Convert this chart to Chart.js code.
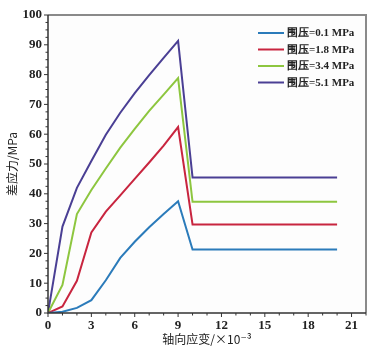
<!DOCTYPE html>
<html><head><meta charset="utf-8">
<script src="https://cdn.jsdelivr.net/npm/chart.js@4/dist/chart.umd.min.js"></script>
<style>html,body{margin:0;padding:0;background:#fff}#wrap{width:382px;height:355px}</style>
</head><body><div id="wrap"><canvas id="c" width="382" height="355"></canvas></div>
<script>
const strain = [0,1,2,3,4,5,6,7,8,9,10,20];
const s01 = [0,0.4,1.7,4.3,11,18.5,23.9,28.8,33.2,37.5,21.3,21.3];
const s18 = [0,2.2,10.8,27.0,34.0,39.5,45.0,50.5,56.2,62.4,29.7,29.7];
const s34 = [0,9.4,33.2,41.3,48.5,55.5,61.8,67.8,73.3,78.8,37.3,37.3];
const s51 = [0,29.0,42.0,51.0,59.8,67.2,73.8,79.8,85.6,91.3,45.5,45.5];
const labels = ['围压=0.1 MPa','围压=1.8 MPa','围压=3.4 MPa','围压=5.1 MPa'];
const colors = ['#2b7bba','#c8253f','#8dc63f','#4a3f94'];
const series = [s01,s18,s34,s51];
const xTicks = [0,3,6,9,12,15,18,21];
const yTicks = [0,10,20,30,40,50,60,70,80,90,100];

const serif = "'Liberation Serif','DejaVu Serif',serif";
const datasets = series.map((s,i)=>({
  label: labels[i],
  data: strain.map((x,j)=>({x:x,y:s[j]})),
  borderColor: colors[i], backgroundColor: colors[i],
  borderWidth: 2, pointRadius: 0, tension: 0, fill:false
}));

const decor = {
  id:'decor',
  beforeDraw(chart){
    const {ctx, chartArea:a} = chart;
    ctx.save(); ctx.fillStyle='#fdfdfd'; ctx.fillRect(a.left,a.top,a.right-a.left,a.bottom-a.top); ctx.restore();
  },
  afterDraw(chart){
    const {ctx, chartArea:a, scales} = chart;
    ctx.save();
    ctx.strokeStyle='#8a8a8a'; ctx.lineWidth=2;
    ctx.beginPath(); ctx.moveTo(a.left,a.top); ctx.lineTo(a.right,a.top); ctx.lineTo(a.right,a.bottom); ctx.stroke();
    ctx.strokeStyle='#333'; ctx.lineWidth=1.5;
    ctx.beginPath(); ctx.moveTo(a.left,a.top); ctx.lineTo(a.left,a.bottom); ctx.lineTo(a.right,a.bottom); ctx.stroke();
    ctx.lineWidth=1;
    const xs=scales.x, ys=scales.y;
    for(let v=0; v<=22; v+=1){
      const p=xs.getPixelForValue(v); const major = (v%3===0);
      ctx.beginPath(); ctx.moveTo(p,a.bottom); ctx.lineTo(p,a.bottom+(major?4:2.5)); ctx.stroke();
    }
    for(let v=0; v<=100; v+=2.5){
      const p=ys.getPixelForValue(v); const major = (v%10===0);
      ctx.beginPath(); ctx.moveTo(a.left,p); ctx.lineTo(a.left-(major?4:2.5),p); ctx.stroke();
    }
    const lx0=258, lx1=284, ly0=33, dy=16.5;
    ctx.font = "bold 11px "+serif;
    ctx.textBaseline='middle'; ctx.textAlign='left';
    chart.data.datasets.forEach((d,i)=>{
      const y=ly0+i*dy;
      ctx.strokeStyle=d.borderColor; ctx.lineWidth=2;
      ctx.beginPath(); ctx.moveTo(lx0,y); ctx.lineTo(lx1,y); ctx.stroke();
      ctx.fillStyle='#222';
      ctx.fillText(d.label, lx1+3, y+0.5);
    });
    ctx.restore();
  }
};

new Chart(document.getElementById('c'), {
  type:'line',
  data:{datasets},
  options:{
    responsive:false, animation:false,
    layout:{padding:{top:15,right:16,left:5,bottom:8}},
    plugins:{legend:{display:false}, tooltip:{enabled:false}},
    scales:{
      x:{type:'linear', min:0, max:22,
        afterBuildTicks(s){ s.ticks = xTicks.map(v=>({value:v})); },
        afterFit(s){ s.height=34; },
        grid:{display:false, drawTicks:false}, border:{display:false},
        ticks:{color:'#222', font:{family:serif, weight:'bold', size:13}, padding:5, autoSkip:false, maxRotation:0},
        title:{display:true, text:'轴向应变/×10⁻³', color:'#222', font:{family:"'Noto Sans CJK SC',"+serif, size:12}, padding:{top:0,bottom:0}}
      },
      y:{type:'linear', min:0, max:100,
        afterBuildTicks(s){ s.ticks = yTicks.map(v=>({value:v})); },
        afterFit(s){ s.width=43; },
        grid:{display:false, drawTicks:false}, border:{display:false},
        ticks:{color:'#222', font:{family:serif, weight:'bold', size:13}, padding:6},
        title:{display:true, text:'差应力/MPa', color:'#222', font:{family:"'Noto Sans CJK SC',"+serif, size:12}, padding:{top:0,bottom:2}}
      }
    }
  },
  plugins:[decor]
});
</script></body></html>
